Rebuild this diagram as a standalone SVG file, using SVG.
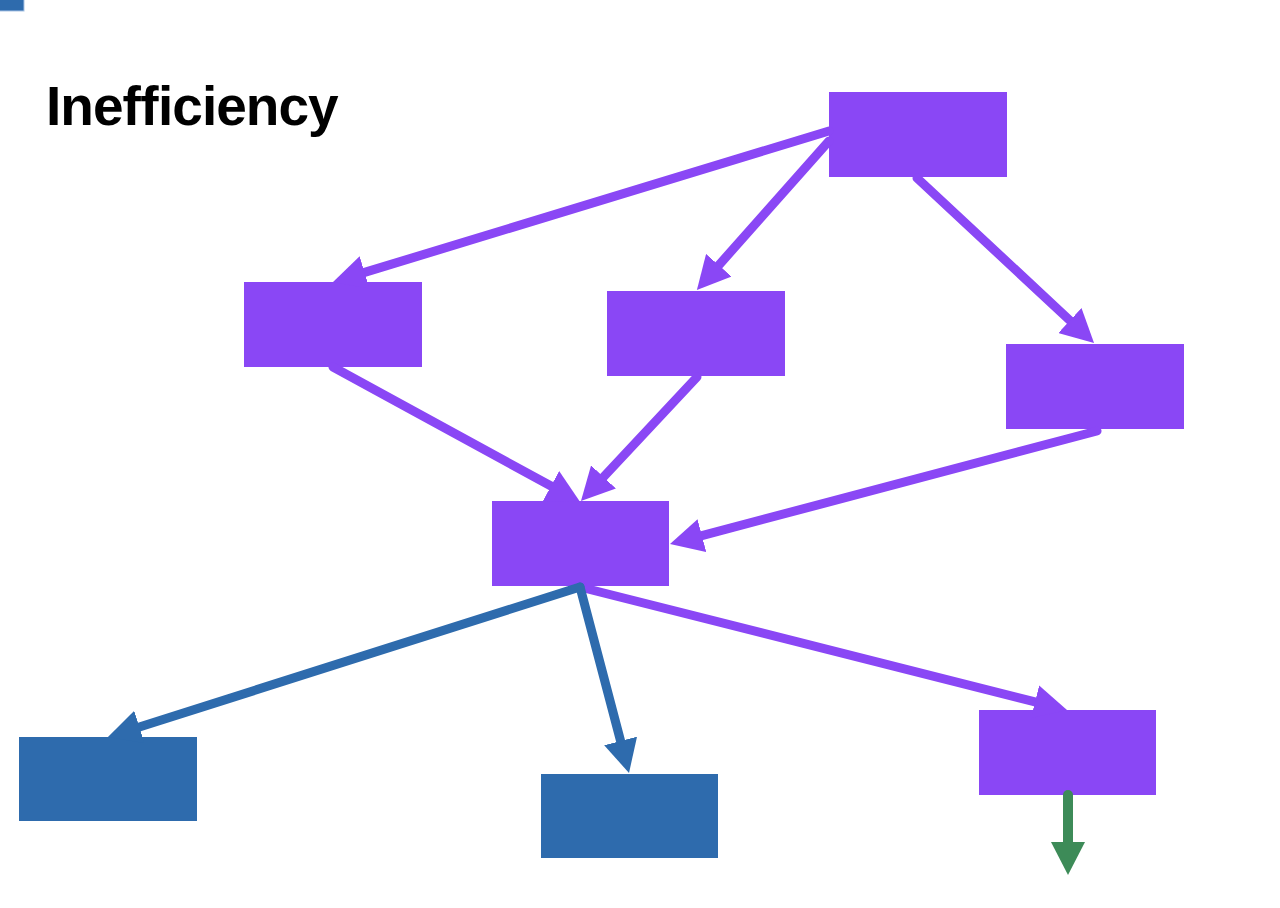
<svg xmlns="http://www.w3.org/2000/svg" width="1280" height="908" viewBox="0 0 1280 908">
  <style>
    .purple { fill: #8a47f5; }
    .blue { fill: #2e6bad; }
    .edge { fill: none; stroke-width: 9; stroke-linecap: round; }
    .ep { stroke: #8a47f5; }
    .eb { stroke: #2e6bad; }
    .eg { stroke: #3d8b58; stroke-width: 10; }
    .title { font-family: "Liberation Sans", Arial, sans-serif; font-weight: bold; font-size: 55px; letter-spacing: -1px; fill: #000; }
  </style>
  <defs>
    <marker id="ahp" markerUnits="userSpaceOnUse" markerWidth="34" markerHeight="34" refX="0" refY="17" orient="auto" viewBox="0 0 34 34">
      <path d="M0,0 L33,17 L0,34 Z" fill="#8a47f5"/>
    </marker>
    <marker id="ahb" markerUnits="userSpaceOnUse" markerWidth="34" markerHeight="34" refX="0" refY="17" orient="auto" viewBox="0 0 34 34">
      <path d="M0,0 L33,17 L0,34 Z" fill="#2e6bad"/>
    </marker>
    <marker id="ahg" markerUnits="userSpaceOnUse" markerWidth="34" markerHeight="34" refX="0" refY="17" orient="auto" viewBox="0 0 34 34">
      <path d="M0,0 L33,17 L0,34 Z" fill="#3d8b58"/>
    </marker>
  </defs>
  <rect width="1280" height="908" fill="#ffffff"/>
  <rect id="legend" x="-1" y="-1" width="25" height="12" class="blue" stroke="#a9c4e4" stroke-width="1"/>
  <text class="title" x="46" y="125" style="font-variant-ligatures: none;">Ine<tspan x="122.5">f</tspan><tspan x="140.3">f</tspan><tspan x="158.1">iciency</tspan></text>

  <g id="nodes">
    <g id="nA"><rect x="829" y="92" width="178" height="85" class="purple"/></g>
    <g id="nB"><rect x="244" y="282" width="178" height="85" class="purple"/></g>
    <g id="nC"><rect x="607" y="291" width="178" height="85" class="purple"/></g>
    <g id="nD"><rect x="1006" y="344" width="178" height="85" class="purple"/></g>
    <g id="nE"><rect x="492" y="501" width="177" height="85" class="purple"/></g>
    <g id="nF"><rect x="979" y="710" width="177" height="85" class="purple"/></g>
    <g id="nG"><rect x="19" y="737" width="178" height="84" class="blue"/></g>
    <g id="nH"><rect x="541" y="774" width="177" height="84" class="blue"/></g>
  </g>

  <g id="connectors">
    <line class="edge ep" x1="829" y1="131" x2="364.6" y2="272.4" marker-end="url(#ahp)"/>
    <line class="edge ep" x1="829" y1="141" x2="718.8" y2="265.2" marker-end="url(#ahp)"/>
    <line class="edge ep" x1="917" y1="178" x2="1069.9" y2="320.5" marker-end="url(#ahp)"/>
    <line class="edge ep" x1="333" y1="367" x2="551" y2="486" marker-end="url(#ahp)"/>
    <line class="edge ep" x1="697" y1="377" x2="603.5" y2="477" marker-end="url(#ahp)"/>
    <line class="edge ep" x1="1097" y1="431" x2="701.9" y2="535.6" marker-end="url(#ahp)"/>
    <line class="edge ep" x1="580" y1="587" x2="1035" y2="701.9" marker-end="url(#ahp)"/>
    <line class="edge eb" x1="580" y1="587" x2="139.4" y2="727" marker-end="url(#ahb)"/>
    <line class="edge eb" x1="580" y1="587" x2="620.6" y2="741" marker-end="url(#ahb)"/>
    <line class="edge eg" x1="1068" y1="795" x2="1068" y2="842" marker-end="url(#ahg)"/>
  </g>
</svg>
